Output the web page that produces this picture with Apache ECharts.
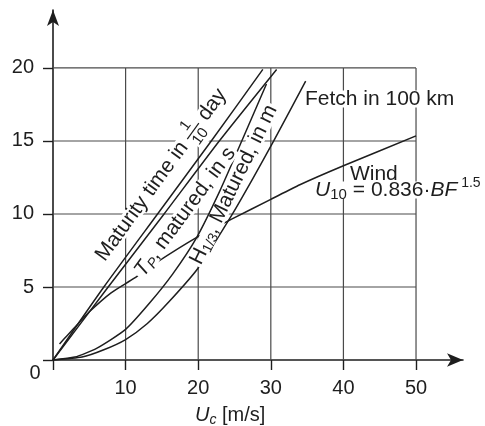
<!DOCTYPE html>
<html>
<head>
<meta charset="utf-8">
<script src="https://cdn.jsdelivr.net/npm/echarts@6/dist/echarts.min.js"></script>
<style>
  html, body { margin: 0; padding: 0; background: #fff; }
  #chart { width: 485px; height: 426px; }
</style>
</head>
<body>
<div id="chart"></div>
<script>
// Axis ticks and labels
const xTicks = [0, 10, 20, 30, 40, 50];
const xTickLabels = [10, 20, 30, 40, 50];
const yTicks = [0, 5, 10, 15, 20];
const yTickLabels = [5, 10, 15, 20];

// Curves: [U_c in m/s, value]
const maturityTime = [[0, 0], [7, 5], [14.4, 10], [21.8, 15], [28.9, 19.9]];
const peakPeriod = [[0, 0], [7.6, 5], [15.3, 10], [22.9, 15], [30.8, 19.9]];
const waveHeight = [[0, 0], [3, 0.2], [6, 0.8], [10, 2.1], [13.3, 3.9], [16.5, 5.9], [19.8, 8.4], [23, 11.6], [26, 15], [29.4, 18.9]];
const fetchLength = [[0, 0], [4, 0.2], [7, 0.7], [10, 1.4], [13, 2.5], [16, 4.0], [20, 6.3], [24.6, 9.9], [27.5, 12.4], [30.4, 15], [34.8, 19.1]];
const beaufort = [[0.9, 1.1], [2, 1.7], [3.5, 2.5], [5, 3.3], [8, 4.6], [11.2, 5.6], [14, 6.6], [19.8, 8.4], [24.6, 9.65], [30, 11.0], [34, 12.0], [40, 13.3], [50, 15.35]];

const FONT = '"Liberation Sans", Arial, Helvetica, sans-serif';
const INK = '#1e1e1e';
const GRID = '#4a4a4a';
const FS = 20;   // tick labels
const LS = 21;   // annotation text

const chart = echarts.init(document.getElementById('chart'), null, { renderer: 'canvas' });

function curve(name, data) {
  return {
    name, type: 'line', data, symbol: 'none', showSymbol: false, smooth: 0.2,
    silent: true, z: 3, lineStyle: { color: INK, width: 1.5 }
  };
}
function gridLine(data) {
  return {
    type: 'line', data, symbol: 'none', showSymbol: false, silent: true, z: 1,
    lineStyle: { color: GRID, width: 1.2 }
  };
}

const xMax = xTicks[xTicks.length - 1];
const yMax = yTicks[yTicks.length - 1];
const gridSeries = [
  ...xTickLabels.map(v => gridLine([[v, 0], [v, yMax]])),
  ...yTickLabels.map(v => gridLine([[0, v], [xMax, v]]))
];

chart.setOption({
  animation: false,
  backgroundColor: '#fff',
  grid: { left: 53, right: 22, top: 10, bottom: 66, containLabel: false },
  xAxis: {
    type: 'value', min: 0, max: 56.47,
    axisLine: { show: true, onZero: false, symbol: ['none', 'arrow'], symbolSize: [10, 16],
      lineStyle: { color: INK, width: 1.6 } },
    axisTick: { show: true, customValues: xTicks, length: 10, lineStyle: { color: INK, width: 1.4 } },
    axisLabel: { customValues: xTickLabels, margin: 18, fontSize: FS, fontFamily: FONT, color: INK },
    splitLine: { show: false }
  },
  yAxis: {
    type: 'value', min: 0, max: 23.97,
    axisLine: { show: true, onZero: false, symbol: ['none', 'arrow'], symbolSize: [9, 16],
      lineStyle: { color: INK, width: 1.6 } },
    axisTick: { show: true, customValues: yTicks, length: 10, lineStyle: { color: INK, width: 1.4 } },
    axisLabel: { customValues: yTickLabels, margin: 19, fontSize: FS, fontFamily: FONT, color: INK },
    splitLine: { show: false }
  },
  series: [
    ...gridSeries,
    curve('Maturity time', maturityTime),
    curve('T_P matured', peakPeriod),
    curve('H1/3 matured', waveHeight),
    curve('Fetch', fetchLength),
    curve('Wind', beaufort)
  ]
});

// ---- text annotations ----
const ctx = document.createElement('canvas').getContext('2d');
function fontOf(p) { return (p.italic ? 'italic ' : '') + (p.size || LS) + 'px ' + FONT; }
function widthOf(text, p) { ctx.font = fontOf(p); return ctx.measureText(text).width; }

// Lays out a run of text pieces (plain, sub/superscript, stacked fraction)
// starting at local x = 0; returns elements and total width.
function layoutRuns(parts) {
  let x = 0;
  const els = [];
  const fracBoxes = [];
  parts.forEach(p => {
    if (p.num) {
      const size = p.size || 15;
      const w = Math.max(widthOf(p.num, { size }), widthOf(p.den, { size })) + 3;
      const cx = x + w / 2;
      els.push({ type: 'text', x: cx, y: -size * 0.62, z: 52,
        style: { text: p.num, font: fontOf({ size }), fill: INK, textAlign: 'center', align: 'center', textVerticalAlign: 'middle', verticalAlign: 'middle' } });
      els.push({ type: 'text', x: cx, y: size * 0.62, z: 52,
        style: { text: p.den, font: fontOf({ size }), fill: INK, textAlign: 'center', align: 'center', textVerticalAlign: 'middle', verticalAlign: 'middle' } });
      els.push({ type: 'line', x: 0, y: 0, z: 52, shape: { x1: x, y1: 0, x2: x + w, y2: 0 }, style: { stroke: INK, lineWidth: 1.2 } });
      fracBoxes.push([x, w, size * 1.25]);
      x += w;
    } else {
      const w = widthOf(p.t, p);
      els.push({ type: 'text', x, y: p.dy || 0, z: 52,
        style: { text: p.t, font: fontOf(p), fill: INK, textAlign: 'left', align: 'left', textVerticalAlign: 'middle', verticalAlign: 'middle' } });
      x += w;
    }
  });
  return { els, width: x, fracBoxes };
}

// Builds a label group with a white knockout box behind the text.
function label(parts, pos, opts) {
  const o = opts || {};
  const r = layoutRuns(parts);
  const shift = o.align === 'left' ? 0 : -r.width / 2;
  const h = o.boxH === undefined ? 17 : o.boxH;
  const children = [];
  if (h > 0) {
    children.push({ type: 'rect', z: 50, shape: { x: shift - 2, y: -h / 2, width: r.width + 4, height: h }, style: { fill: '#fff' } });
  }
  r.fracBoxes.forEach(b => {
    children.push({ type: 'rect', z: 50, shape: { x: shift + b[0], y: -b[2], width: b[1], height: b[2] * 2 }, style: { fill: '#fff' } });
  });
  r.els.forEach(e => { e.x += shift; children.push(e); });
  return { type: 'group', x: pos[0], y: pos[1], rotation: (o.rot || 0) * Math.PI / 180, children };
}

const toPx = (x, y) => chart.convertToPixel({ xAxisIndex: 0, yAxisIndex: 0 }, [x, y]);
const origin = toPx(0, 0);

const graphics = [
  label([{ t: 'Maturity time in ' }, { num: '1', den: '10', size: 15 }, { t: ' day' }], toPx(14.9, 12.67), { rot: 54 }),
  label([{ t: 'T', italic: true }, { t: 'P', italic: true, size: 14, dy: 5 }, { t: ', matured, in s' }], toPx(18.2, 10.14), { rot: 53.5 }),
  label([{ t: 'H' }, { t: '1/3', size: 14, dy: 5 }, { t: ', Matured, in m' }], toPx(24.9, 12.0), { rot: 64 }),
  label([{ t: 'Fetch in 100 km' }], toPx(34.7, 17.88), { align: 'left' }),
  label([{ t: 'Wind' }], toPx(40.9, 12.74), { align: 'left' }),
  label([{ t: 'U', italic: true }, { t: '10', size: 15, dy: 5 }, { t: ' = 0.836\u00b7' }, { t: 'BF', italic: true }, { t: ' 1.5', size: 14, dy: -7 }], toPx(36.1, 11.64), { align: 'left' }),
  label([{ t: 'U', italic: true, size: FS }, { t: 'c', italic: true, size: 14, dy: 5 }, { t: ' [m/s]', size: FS }], [toPx(24.4, 0)[0], origin[1] + 55], { boxH: 0 }),
  label([{ t: '0', size: FS }], [origin[0] - 18, origin[1] + 13], { boxH: 0 })
];

chart.setOption({ graphic: { elements: graphics } });
</script>
</body>
</html>
